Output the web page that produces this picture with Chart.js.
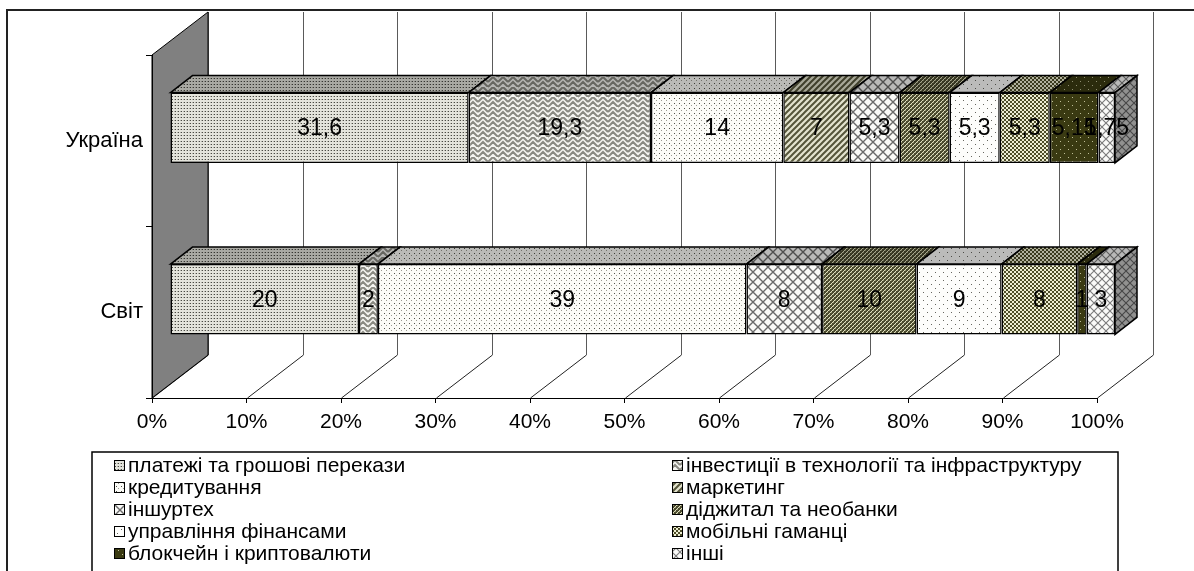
<!DOCTYPE html>
<html>
<head>
<meta charset="utf-8">
<script src="https://cdn.jsdelivr.net/npm/chart.js@4.4.1/dist/chart.umd.min.js"></script>
<style>
    html, body { margin: 0; padding: 0; background: #fff; }
    canvas { display: block; }
</style>
</head>
<body>
<canvas id="fintechChart" width="1194" height="571"></canvas>
<script>
const categories = ['Україна', 'Світ'];
const seriesNames = [
    'платежі та грошові перекази',
    'інвестиції в технології та інфраструктуру',
    'кредитування',
    'маркетинг',
    'іншуртех',
    'діджитал та необанки',
    'управління фінансами',
    'мобільні гаманці',
    'блокчейн і криптовалюти',
    'інші',
];
const ukraineValues = [31.6, 19.3, 14, 7, 5.3, 5.3, 5.3, 5.3, 5.15, 1.75];
const worldValues = [20, 2, 39, 0, 8, 10, 9, 8, 1, 3];

const FONT = 'Liberation Sans, Arial, sans-serif';
// fake 3d: wall depth, bar shift off the front plane, bar depth
const WALL_DX = 56, WALL_DY = 43;
const SHIFT_X = 18, SHIFT_Y = 13;
const BAR_DX = 22, BAR_DY = 17;

const canvas = document.getElementById('fintechChart');
const ctx = canvas.getContext('2d');

// pattern tiles, one per series
const tiles = [
    [3, g => { g.fillStyle = '#e4e4dc'; g.fillRect(0, 0, 3, 3); g.fillStyle = '#4a4a44'; g.fillRect(1, 1, 1, 1); g.fillStyle = '#b0b0a8'; g.fillRect(0, 1, 1, 1); }],
    [10, g => {
        g.fillStyle = '#f6f6f2'; g.fillRect(0, 0, 10, 10);
        g.strokeStyle = '#8a8a82'; g.lineWidth = 2;
        g.beginPath();
        g.moveTo(0, 5); g.lineTo(5, 0); g.lineTo(10, 5);
        g.moveTo(0, 10); g.lineTo(5, 5); g.lineTo(10, 10);
        g.moveTo(-5, 5); g.lineTo(0, 0);
        g.stroke();
    }],
    [5, g => { g.fillStyle = '#fbfbf7'; g.fillRect(0, 0, 5, 5); g.fillStyle = '#505048'; g.fillRect(1, 1, 1, 1); g.fillStyle = '#9a9a92'; g.fillRect(3, 3, 1, 1); }],
    [6, g => {
        g.fillStyle = '#e4e4cf'; g.fillRect(0, 0, 6, 6);
        g.strokeStyle = '#55553a'; g.lineWidth = 2;
        g.beginPath();
        g.moveTo(0, 6); g.lineTo(6, 0);
        g.moveTo(-3, 3); g.lineTo(3, -3);
        g.moveTo(3, 9); g.lineTo(9, 3);
        g.stroke();
    }],
    [10, g => {
        g.fillStyle = '#fafaf8'; g.fillRect(0, 0, 10, 10);
        g.strokeStyle = '#6a6a6a'; g.lineWidth = 1.4;
        g.beginPath();
        g.moveTo(0, 0); g.lineTo(10, 10);
        g.moveTo(10, 0); g.lineTo(0, 10);
        g.stroke();
    }],
    [4, g => {
        g.fillStyle = '#4a4a2e'; g.fillRect(0, 0, 4, 4);
        g.fillStyle = '#e0e0c0'; g.fillRect(1, 0, 1, 1); g.fillRect(0, 1, 1, 1); g.fillRect(3, 2, 1, 1); g.fillRect(2, 3, 1, 1);
        g.fillStyle = '#8c8c6a'; g.fillRect(1, 1, 1, 1); g.fillRect(3, 3, 1, 1);
    }],
    [8, g => { g.fillStyle = '#fdfdfb'; g.fillRect(0, 0, 8, 8); g.fillStyle = '#66665f'; g.fillRect(1, 1, 1, 1); g.fillRect(5, 5, 1, 1); }],
    [4, g => { g.fillStyle = '#4d4d28'; g.fillRect(0, 0, 4, 4); g.fillStyle = '#eeeed4'; g.fillRect(0, 0, 2, 2); g.fillRect(2, 2, 2, 2); }],
    [8, g => { g.fillStyle = '#3a3a12'; g.fillRect(0, 0, 8, 8); g.fillStyle = '#c0c098'; g.fillRect(2, 2, 1, 1); g.fillRect(6, 6, 1, 1); }],
    [8, g => {
        g.fillStyle = '#fafaf8'; g.fillRect(0, 0, 8, 8);
        g.strokeStyle = '#7a7a7a'; g.lineWidth = 1.1;
        g.beginPath();
        g.moveTo(0, 0); g.lineTo(8, 8);
        g.moveTo(8, 0); g.lineTo(0, 8);
        g.stroke();
    }],
];

function makePattern(tile, shade) {
    const [size, draw] = tile;
    const c = document.createElement('canvas');
    c.width = size;
    c.height = size;
    const g = c.getContext('2d');
    draw(g);
    if (shade) {
        g.fillStyle = 'rgba(0, 0, 0, ' + shade + ')';
        g.fillRect(0, 0, size, size);
    }
    return ctx.createPattern(c, 'repeat');
}

const frontFills = tiles.map(t => makePattern(t, 0));
const topFills = tiles.map(t => makePattern(t, 0.26));
const sideFills = tiles.map(t => makePattern(t, 0.42));

const datasets = seriesNames.map((name, i) => ({
    label: name,
    data: [ukraineValues[i], worldValues[i]],
    backgroundColor: frontFills[i],
    borderColor: '#000',
    borderWidth: 1.5,
    borderSkipped: false,
    barPercentage: 0.41,
    categoryPercentage: 1,
    clip: false,
}));

function poly(c, pts, fill) {
    c.beginPath();
    c.moveTo(pts[0][0], pts[0][1]);
    for (let k = 1; k < pts.length; k++) c.lineTo(pts[k][0], pts[k][1]);
    c.closePath();
    c.fillStyle = fill;
    c.fill();
    c.stroke();
}

const depthPlugin = {
    id: 'depth',
    beforeDraw(chart) {
        const c = chart.ctx;
        const area = chart.chartArea;
        const x = chart.scales.x;
        c.save();
        // outer frame
        c.strokeStyle = '#222';
        c.lineWidth = 2;
        c.beginPath();
        c.moveTo(7, 571);
        c.lineTo(7, 10);
        c.lineTo(1194, 10);
        c.stroke();
        // back wall grid + floor lines
        c.lineWidth = 1;
        x.ticks.forEach(t => {
            const px = Math.round(x.getPixelForValue(t.value)) + 0.5;
            c.strokeStyle = '#222';
            c.beginPath();
            c.moveTo(px, area.bottom);
            c.lineTo(px + WALL_DX, area.bottom - WALL_DY);
            c.stroke();
            c.strokeStyle = '#5a5a5a';
            c.beginPath();
            c.moveTo(px + WALL_DX, area.bottom - WALL_DY);
            c.lineTo(px + WALL_DX, area.top - WALL_DY);
            c.stroke();
        });
        // side wall
        c.strokeStyle = '#000';
        poly(c, [
            [area.left, area.top],
            [area.left + WALL_DX, area.top - WALL_DY],
            [area.left + WALL_DX, area.bottom - WALL_DY],
            [area.left, area.bottom],
        ], '#808080');
        c.restore();
    },
    beforeDatasetsDraw(chart) {
        chart.ctx.save();
        chart.ctx.translate(SHIFT_X, -SHIFT_Y);
    },
    afterDatasetsDraw(chart) {
        const c = chart.ctx;
        c.strokeStyle = '#000';
        c.lineWidth = 1.5;
        const lastIdx = {};
        chart.data.datasets.forEach((ds, d) => {
            chart.getDatasetMeta(d).data.forEach((bar, i) => {
                if (!ds.data[i]) return;
                lastIdx[i] = d;
                const l = Math.min(bar.x, bar.base), r = Math.max(bar.x, bar.base);
                const top = bar.y - bar.height / 2;
                poly(c, [[l, top], [l + BAR_DX, top - BAR_DY], [r + BAR_DX, top - BAR_DY], [r, top]], topFills[d]);
            });
        });
        Object.keys(lastIdx).forEach(i => {
            const d = lastIdx[i];
            const bar = chart.getDatasetMeta(d).data[i];
            const r = Math.max(bar.x, bar.base);
            const top = bar.y - bar.height / 2, bottom = bar.y + bar.height / 2;
            poly(c, [[r, top], [r + BAR_DX, top - BAR_DY], [r + BAR_DX, bottom - BAR_DY], [r, bottom]], sideFills[d]);
        });
        // value labels
        c.fillStyle = '#000';
        c.font = '23px ' + FONT;
        c.textAlign = 'center';
        c.textBaseline = 'middle';
        chart.data.datasets.forEach((ds, d) => {
            chart.getDatasetMeta(d).data.forEach((bar, i) => {
                const v = ds.data[i];
                if (!v) return;
                c.fillText(String(v).replace('.', ','), (bar.x + bar.base) / 2, bar.y + 1);
            });
        });
        c.restore();
    },
    afterDraw(chart) {
        const c = chart.ctx;
        c.save();
        c.strokeStyle = '#000';
        c.lineWidth = 1.5;
        c.strokeRect(92, 452, 1026, 140);
        c.font = '21px ' + FONT;
        c.textBaseline = 'middle';
        c.textAlign = 'left';
        chart.data.datasets.forEach((ds, d) => {
            const col = d % 2, row = Math.floor(d / 2);
            const mx = col ? 672 : 114;
            const my = 465 + row * 22;
            c.fillStyle = frontFills[d];
            c.lineWidth = 1;
            c.fillRect(mx, my - 5, 11, 11);
            c.strokeRect(mx + 0.5, my - 4.5, 10, 10);
            c.fillStyle = '#000';
            c.fillText(ds.label, mx + 14, my + 1);
        });
        c.restore();
    },
};

new Chart(ctx, {
    type: 'bar',
    data: {
        labels: categories,
        datasets: datasets,
    },
    options: {
        indexAxis: 'y',
        responsive: false,
        animation: false,
        devicePixelRatio: 1,
        layout: {
            padding: { left: 0, right: 97, top: 55, bottom: 133 },
        },
        plugins: {
            legend: { display: false },
            tooltip: { enabled: false },
        },
        scales: {
            x: {
                stacked: true,
                min: 0,
                max: 100,
                ticks: {
                    stepSize: 10,
                    callback: v => v + '%',
                    color: '#000',
                    padding: 7,
                    maxRotation: 0,
                    font: { family: FONT, size: 21 },
                },
                grid: { drawOnChartArea: false, tickLength: 5, color: '#000' },
                border: { color: '#000', width: 1 },
                afterFit: s => { s.height = 40; },
            },
            y: {
                stacked: true,
                ticks: {
                    color: '#000',
                    padding: 3,
                    font: { family: FONT, size: 22 },
                },
                grid: { drawOnChartArea: false, tickLength: 6, color: '#000', offset: true },
                border: { color: '#000', width: 1 },
                afterFit: s => { s.width = 152; },
            },
        },
    },
    plugins: [depthPlugin],
});
</script>
</body>
</html>
